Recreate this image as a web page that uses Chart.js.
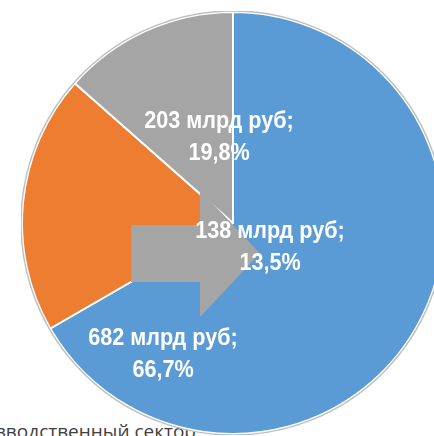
<!DOCTYPE html>
<html>
<head>
<meta charset="utf-8">
<script src="https://cdn.jsdelivr.net/npm/chart.js@4/dist/chart.umd.min.js"></script>
<style>
  html, body { margin: 0; padding: 0; background: #ffffff; width: 434px; height: 436px; overflow: hidden; position: relative; }
  #caption { position: absolute; right: 238px; top: 421px; font-family: "Open Sans", sans-serif; font-size: 19px; line-height: 20px; color: #404040; white-space: nowrap; z-index: 0; }
  #wrap { position: absolute; left: 21px; top: 11px; width: 424px; height: 424px; z-index: 1; }
</style>
</head>
<body>
<div id="caption">производственный сектор</div>
<div id="wrap"><canvas id="c" width="424" height="424"></canvas></div>
<script>
const categories = ["Сектор 1", "Сектор 2", "Сектор 3"];
const valuesBln = [682, 203, 138];
const sharesPct = [66.7, 19.8, 13.5];
const colors = ["#5B9BD5", "#ED7D31", "#A5A5A5"];

// label offsets relative to pie centre (decorative placement, as in source)
const labelOffsets = [[-70, 122], [-14, -95], [37, 15]];

const fmtPct = v => v.toFixed(1).replace('.', ',') + '%';

const decorPlugin = {
  id: 'decor',
  afterDatasetsDraw(chart) {
    const ctx = chart.ctx;
    const arc = chart.getDatasetMeta(0).data[0];
    const cx = arc.x, cy = arc.y, R = arc.outerRadius;
    ctx.save();
    // outer outline
    ctx.beginPath();
    ctx.arc(cx, cy, R + 1, 0, Math.PI * 2);
    ctx.strokeStyle = '#bfbfbf';
    ctx.lineWidth = 1.5;
    ctx.stroke();
    // block arrow
    ctx.beginPath();
    ctx.moveTo(cx - 102, cy + 2);
    ctx.lineTo(cx - 33, cy + 2);
    ctx.lineTo(cx - 33, cy - 33);
    ctx.lineTo(cx + 27, cy + 30.5);
    ctx.lineTo(cx - 33, cy + 94);
    ctx.lineTo(cx - 33, cy + 59);
    ctx.lineTo(cx - 102, cy + 59);
    ctx.closePath();
    ctx.fillStyle = '#A5A5A5';
    ctx.fill();
    // labels
    ctx.fillStyle = '#ffffff';
    ctx.textAlign = 'center';
    ctx.textBaseline = 'alphabetic';
    ctx.font = 'bold 24px "Liberation Sans", Arial, sans-serif';
    valuesBln.forEach((v, i) => {
      const [dx, dy] = labelOffsets[i];
      ctx.save();
      ctx.translate(cx + dx, cy + dy);
      ctx.scale(0.9, 1);
      ctx.fillText(v + ' млрд руб;', 0, 0);
      ctx.fillText(fmtPct(sharesPct[i]), 0, 32);
      ctx.restore();
    });
    ctx.restore();
  }
};

new Chart(document.getElementById('c'), {
  type: 'pie',
  data: {
    labels: categories,
    datasets: [{
      data: valuesBln,
      backgroundColor: colors,
      borderColor: '#ffffff',
      borderWidth: 2
    }]
  },
  options: {
    responsive: false,
    animation: false,
    layout: { padding: 0 },
    plugins: { legend: { display: false }, tooltip: { enabled: false } }
  },
  plugins: [decorPlugin]
});
</script>
</body>
</html>
